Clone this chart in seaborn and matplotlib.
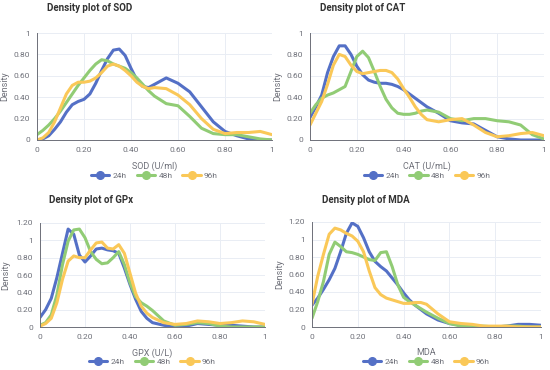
import pandas as pd
import matplotlib
matplotlib.use('Agg')
import matplotlib.pyplot as plt
from matplotlib.lines import Line2D
from matplotlib.ticker import FuncFormatter
import seaborn as sns

# shared x grid: finer steps up to 0.5, then 0.05
x_grid = [0.000, 0.025, 0.050, 0.075, 0.100, 0.125, 0.150, 0.175, 0.200, 0.225,
          0.250, 0.275, 0.300, 0.325, 0.350, 0.375, 0.400, 0.425, 0.450, 0.475,
          0.500, 0.55, 0.60, 0.65, 0.70, 0.75, 0.80, 0.85, 0.90, 0.95, 1.00]

groups = ['24h', '48h', '96h']
colors = ['#5470c6', '#91cc75', '#fac858']

# SOD
sod_24 = [0.00, 0.01, 0.04, 0.10, 0.17, 0.26, 0.33, 0.36, 0.38, 0.43,
          0.53, 0.65, 0.76, 0.84, 0.85, 0.79, 0.67, 0.56, 0.50, 0.49,
          0.52, 0.58, 0.53, 0.45, 0.31, 0.17, 0.08, 0.04, 0.01, 0.00, 0.00]
sod_48 = [0.05, 0.09, 0.14, 0.20, 0.27, 0.35, 0.43, 0.51, 0.58, 0.65,
          0.71, 0.75, 0.74, 0.71, 0.69, 0.67, 0.63, 0.58, 0.52, 0.46,
          0.41, 0.34, 0.32, 0.22, 0.11, 0.06, 0.05, 0.05, 0.03, 0.01, 0.00]
sod_96 = [0.00, 0.02, 0.07, 0.17, 0.30, 0.43, 0.51, 0.54, 0.54, 0.55,
          0.58, 0.63, 0.69, 0.71, 0.69, 0.65, 0.60, 0.54, 0.50, 0.48,
          0.49, 0.48, 0.42, 0.33, 0.20, 0.10, 0.06, 0.07, 0.07, 0.08, 0.05]

# CAT
cat_24 = [0.21, 0.31, 0.42, 0.63, 0.78, 0.88, 0.88, 0.80, 0.69, 0.61,
          0.56, 0.54, 0.53, 0.53, 0.52, 0.50, 0.47, 0.43, 0.39, 0.35,
          0.31, 0.25, 0.18, 0.16, 0.15, 0.09, 0.03, 0.01, 0.00, 0.00, 0.00]
cat_48 = [0.25, 0.33, 0.39, 0.42, 0.44, 0.47, 0.50, 0.64, 0.78, 0.83,
          0.77, 0.64, 0.50, 0.38, 0.30, 0.25, 0.24, 0.24, 0.25, 0.27,
          0.28, 0.26, 0.20, 0.18, 0.20, 0.20, 0.18, 0.17, 0.14, 0.05, 0.01]
cat_96 = [0.14, 0.25, 0.36, 0.52, 0.70, 0.80, 0.78, 0.70, 0.64, 0.62,
          0.63, 0.64, 0.65, 0.65, 0.63, 0.57, 0.48, 0.40, 0.31, 0.24,
          0.19, 0.17, 0.19, 0.20, 0.14, 0.07, 0.03, 0.04, 0.06, 0.07, 0.04]

# GPx
gpx_24 = [0.11, 0.20, 0.33, 0.57, 0.85, 1.13, 1.07, 0.83, 0.75, 0.82,
          0.90, 0.91, 0.89, 0.88, 0.85, 0.68, 0.49, 0.32, 0.18, 0.10,
          0.05, 0.02, 0.00, 0.01, 0.04, 0.03, 0.02, 0.02, 0.01, 0.00, 0.00]
gpx_48 = [0.02, 0.05, 0.14, 0.37, 0.72, 0.99, 1.12, 1.13, 1.03, 0.87,
          0.78, 0.73, 0.74, 0.80, 0.87, 0.72, 0.51, 0.35, 0.28, 0.24,
          0.19, 0.07, 0.02, 0.03, 0.05, 0.04, 0.01, 0.00, 0.00, 0.00, 0.00]
gpx_96 = [0.01, 0.04, 0.10, 0.28, 0.55, 0.76, 0.82, 0.80, 0.80, 0.89,
          0.97, 0.98, 0.91, 0.90, 0.95, 0.85, 0.62, 0.39, 0.24, 0.16,
          0.11, 0.05, 0.03, 0.04, 0.07, 0.06, 0.04, 0.05, 0.07, 0.06, 0.03]

# MDA
mda_24 = [0.25, 0.33, 0.43, 0.54, 0.67, 0.86, 1.07, 1.19, 1.15, 1.02,
          0.86, 0.75, 0.69, 0.64, 0.56, 0.48, 0.39, 0.31, 0.25, 0.20,
          0.15, 0.08, 0.04, 0.02, 0.01, 0.00, 0.00, 0.01, 0.03, 0.03, 0.02]
mda_48 = [0.10, 0.29, 0.52, 0.83, 0.97, 0.92, 0.86, 0.85, 0.83, 0.80,
          0.77, 0.76, 0.85, 0.86, 0.69, 0.48, 0.34, 0.29, 0.25, 0.21,
          0.17, 0.10, 0.04, 0.01, 0.01, 0.01, 0.00, 0.01, 0.01, 0.00, 0.00]
mda_96 = [0.26, 0.58, 0.83, 1.06, 1.13, 1.11, 1.07, 1.04, 0.98, 0.86,
          0.64, 0.45, 0.37, 0.33, 0.31, 0.29, 0.27, 0.27, 0.28, 0.28,
          0.26, 0.15, 0.06, 0.04, 0.03, 0.01, 0.01, 0.01, 0.00, 0.00, 0.00]

panels = [
    ('Density plot of SOD', 'SOD (U/ml)', [sod_24, sod_48, sod_96], 1.0),
    ('Density plot of CAT', 'CAT (U/mL)', [cat_24, cat_48, cat_96], 1.0),
    ('Density plot of GPx', 'GPX (U/L)', [gpx_24, gpx_48, gpx_96], 1.2),
    ('Density plot of MDA', 'MDA', [mda_24, mda_48, mda_96], 1.2),
]

# axes rectangles in pixels (left, top, right, bottom) of the 550x370 reference
boxes = [(37, 33, 272, 140), (310, 33, 544, 140),
         (40, 223, 265, 327), (312, 222, 541, 327)]
title_xy = [(47, 8), (320, 8), (49, 200), (322, 200)]
ylabel_px = [9, 282, 10, 284]

sns.set_style('white')
plt.rcParams['font.family'] = ['Roboto', 'DejaVu Sans']

axis_col = '#6e7079'
grid_col = '#e9edf4'


def fmt(v, pos):
    if abs(v) < 1e-9:
        return '0'
    if abs(v - 1) < 1e-9:
        return '1'
    return f'{v:.2f}'


fig = plt.figure(figsize=(5.5, 3.7), dpi=100)

for (title, xlabel, series, ymax), (l, t, r, b), (tx, ty), yl in zip(
        panels, boxes, title_xy, ylabel_px):
    ax = fig.add_axes([l / 550, 1 - b / 370, (r - l) / 550, (b - t) / 370])
    rows = []
    for g, vals in zip(groups, series):
        for xv, yv in zip(x_grid, vals):
            rows.append({'x': xv, 'y': yv, 'time': g})
    df = pd.DataFrame(rows)
    sns.lineplot(data=df, x='x', y='y', hue='time', palette=colors,
                 linewidth=2.2, legend=False, ax=ax, solid_joinstyle='round',
                 solid_capstyle='round')
    ax.set_xlim(0, 1)
    ax.set_ylim(0, ymax)
    ax.set_xticks([0, 0.2, 0.4, 0.6, 0.8, 1.0])
    ax.set_yticks([k / 10 for k in range(0, int(round(ymax * 10)) + 1, 2)])
    ax.xaxis.set_major_formatter(FuncFormatter(fmt))
    ax.yaxis.set_major_formatter(FuncFormatter(fmt))
    ax.grid(True, color=grid_col, linewidth=0.7)
    for side in ['top', 'right']:
        ax.spines[side].set_visible(False)
    for side in ['left', 'bottom']:
        ax.spines[side].set_color(axis_col)
        ax.spines[side].set_linewidth(0.7)
    ax.tick_params(axis='both', labelsize=6, colors=axis_col, length=3,
                   width=0.7, pad=2, direction='out')
    ax.set_xlabel(xlabel, fontsize=6.5, color=axis_col, labelpad=6)
    ax.set_ylabel('Density', fontsize=6.5, color=axis_col)
    ax.yaxis.set_label_coords((yl - l) / (r - l), 0.5)
    fig.text(tx / 550, 1 - ty / 370, title, fontsize=7, fontweight='bold',
             color='#333333', ha='left', va='center')
    handles = [Line2D([0], [0], color=c, marker='o', markersize=5.5,
                      linewidth=2.2) for c in colors]
    ax.legend(handles, groups, loc='center', bbox_to_anchor=(0.5, -0.33),
              ncol=3, frameon=False, fontsize=6, labelcolor=axis_col,
              handlelength=2.2, handletextpad=0.4, columnspacing=1.2)

fig.savefig('out.png', dpi=100)
